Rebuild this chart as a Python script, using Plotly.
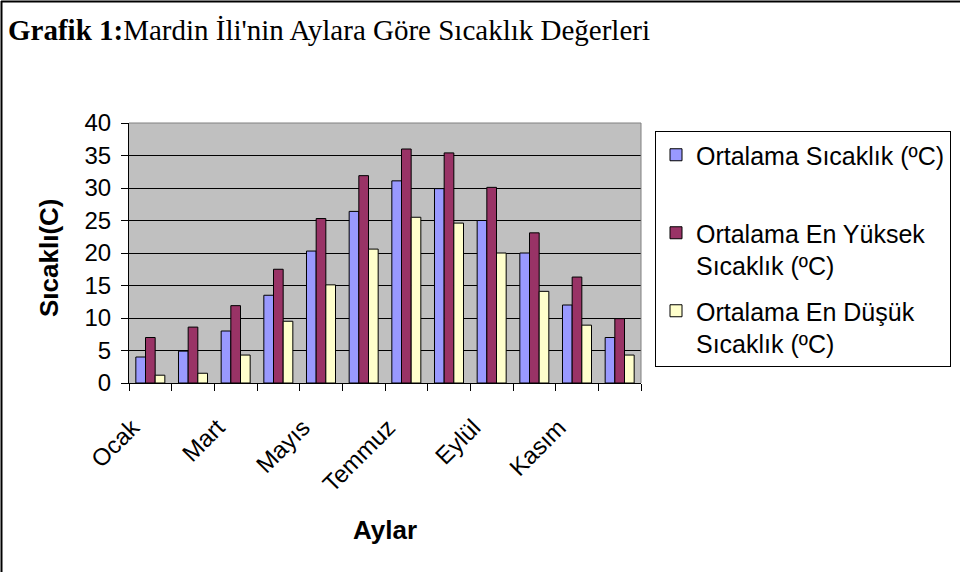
import plotly.graph_objects as go

months = ["Ocak", "Şubat", "Mart", "Nisan", "Mayıs", "Haziran",
          "Temmuz", "Ağustos", "Eylül", "Ekim", "Kasım", "Aralık"]
ortalama = [4.0, 4.9, 8.0, 13.5, 20.3, 26.4, 31.1, 29.9, 25.0, 20.0, 12.0, 7.0]
en_yuksek = [7.0, 8.6, 11.9, 17.5, 25.3, 31.9, 36.0, 35.4, 30.1, 23.1, 16.3, 9.9]
en_dusuk = [1.2, 1.5, 4.3, 9.5, 15.1, 20.6, 25.5, 24.6, 20.0, 14.1, 8.9, 4.3]

series_names = ["Ortalama Sıcaklık (ºC)<br> ",
                "Ortalama En Yüksek<br>Sıcaklık (ºC)",
                "Ortalama En Düşük<br>Sıcaklık (ºC)"]
colors = ["#9999FF", "#993366", "#FFFFCC"]

SANS = "Liberation Sans, Arial, sans-serif"
SERIF = "Liberation Serif, Times New Roman, serif"

fig = go.Figure()
for name, vals, col, grp in zip(series_names, [ortalama, en_yuksek, en_dusuk], colors, ["a", "b", "c"]):
    fig.add_trace(go.Bar(x=months, y=vals, name=name, legendgroup=grp,
                         marker=dict(color=col, line=dict(color="black", width=1))))

L, R, T, B = 129, 319, 123, 189
W, H = 960, 572
pw, ph = W - L - R, H - T - B

def px_x(p):
    return (p - L) / pw

def px_y(p):
    return (H - B - p) / ph

fig.update_layout(
    width=W, height=H,
    margin=dict(l=L, r=R, t=T, b=B, pad=0, autoexpand=False),
    paper_bgcolor="white",
    plot_bgcolor="#C0C0C0",
    barmode="group",
    bargap=0.32,
    bargroupgap=0,
    font=dict(family=SANS, color="black", size=24),
    title=dict(text="<b>Grafik 1:</b>Mardin İli'nin Aylara Göre Sıcaklık Değerleri",
               font=dict(family=SERIF, size=29, color="black"),
               x=8 / W, xanchor="left", xref="container",
               y=1 - 30 / H, yanchor="middle", yref="container"),
    xaxis=dict(type="category", tickson="boundaries", ticks="outside", ticklen=7,
               tickcolor="black", tickangle=-45, dtick=1, ticklabelstep=2,
               ticklabelstandoff=20, ticklabelshift=-18,
               showline=True, linecolor="black", linewidth=1,
               tickfont=dict(size=24), showgrid=False),
    yaxis=dict(range=[0, 40], dtick=5, ticks="outside", ticklen=7, tickcolor="black",
               showline=True, linecolor="black", linewidth=1,
               gridcolor="black", gridwidth=1, zeroline=False,
               ticklabelstandoff=5,
               tickfont=dict(size=24)),
    legend=dict(x=655 / W, y=1 - 131 / H, xref="container", yref="container",
                xanchor="left", yanchor="top",
                bordercolor="black", borderwidth=1, bgcolor="white",
                font=dict(size=25), valign="top", traceorder="grouped",
                tracegroupgap=10),
    showlegend=True,
)

fig.add_annotation(text="<b>Sıcaklı(C)</b>", textangle=-90, xref="paper", yref="paper",
                   x=px_x(49), y=px_y(258), xanchor="center", yanchor="middle",
                   showarrow=False, font=dict(size=26))
fig.add_annotation(text="<b>Aylar</b>", xref="paper", yref="paper",
                   x=0.5, y=px_y(530), xanchor="center", yanchor="middle",
                   showarrow=False, font=dict(size=26))

# plot area gray top/right border
fig.add_shape(type="line", xref="paper", yref="paper", x0=0, x1=1, y0=1, y1=1,
              line=dict(color="#808080", width=1))
fig.add_shape(type="line", xref="paper", yref="paper", x0=1, x1=1, y0=0, y1=1,
              line=dict(color="#808080", width=1))
# outer chart border (top and left)
fig.add_shape(type="line", xref="paper", yref="paper", x0=px_x(1), x1=px_x(W), y0=px_y(1.5), y1=px_y(1.5),
              line=dict(color="black", width=2))
fig.add_shape(type="line", xref="paper", yref="paper", x0=px_x(1.5), x1=px_x(1.5), y0=px_y(1), y1=px_y(H),
              line=dict(color="black", width=2))

fig.write_html("out.html", config={"displayModeBar": False},
               post_script="document.body.style.margin='0';")
